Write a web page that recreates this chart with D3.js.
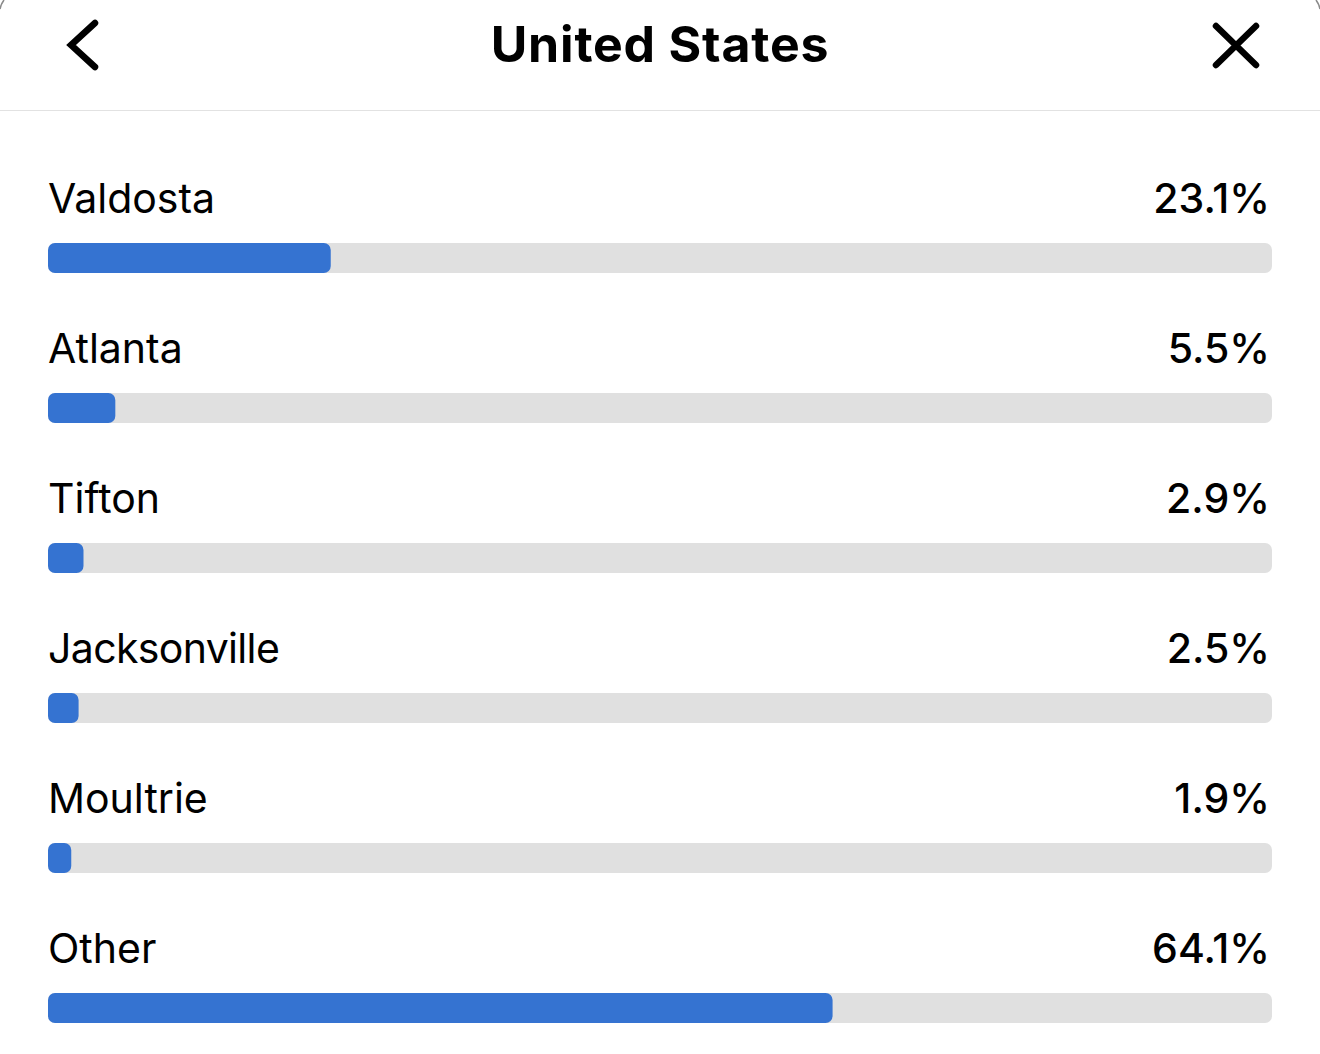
<!DOCTYPE html>
<html>
<head>
<meta charset="utf-8">
<script src="https://cdn.jsdelivr.net/npm/d3@7"></script>
<style>
    html, body { margin: 0; padding: 0; background: #fff; }
    svg { display: block; font-family: Inter, "Noto Sans", sans-serif; }
</style>
</head>
<body>
<svg id="chart" width="1320" height="1054"></svg>
<script>
var title = 'United States';
var cities = ['Valdosta', 'Atlanta', 'Tifton', 'Jacksonville', 'Moultrie', 'Other'];
var shares = [23.1, 5.5, 2.9, 2.5, 1.9, 64.1];

var width = 1320;
var height = 1054;
var svg = d3.select('#chart');

var rows = cities.map(function (city, i) {
    return {city: city, share: shares[i]};
});

var x = d3.scaleLinear().domain([0, 100]).range([48, 1272]);
// one band per row, the bar takes 30 of every 150 px
var y = d3.scaleBand().domain(cities).range([168, 1068]).paddingInner(0);
var barTop = 75;
var barHeight = 30;

// header
svg.append('line')
    .attr('x1', 0).attr('x2', width)
    .attr('y1', 110.5).attr('y2', 110.5)
    .style('stroke', '#e2e2e2')
    .style('stroke-width', 1);

svg.append('text')
    .attr('x', 660).attr('y', 62)
    .attr('text-anchor', 'middle')
    .style('font-size', '50px')
    .style('font-weight', 700)
    .style('letter-spacing', '0.8px')
    .style('fill', '#000')
    .text(title);

var icon = svg.append('g')
    .style('fill', 'none')
    .style('stroke', '#000')
    .style('stroke-width', 6.5)
    .style('stroke-linecap', 'round')
    .style('stroke-linejoin', 'miter');
icon.append('path').attr('d', 'M95 23L71 45L95 67');
icon.append('path').attr('d', 'M1216 26L1256 65M1256 26L1216 65');

// phone screen corners
var corners = svg.append('g').style('fill', 'none').style('stroke', '#8a8a8a').style('stroke-width', 1.5);
corners.append('path').attr('d', 'M0 9Q1 4 4 0');
corners.append('path').attr('d', 'M1320 9Q1319 4 1316 0');

var row = svg.selectAll('.row')
    .data(rows)
    .enter()
    .append('g')
    .attr('class', 'row')
    .attr('transform', function (d) {
        return 'translate(0,' + y(d.city) + ')';
    });

row.append('text')
    .attr('x', 48).attr('y', 45)
    .style('font-size', '41px')
    .style('letter-spacing', function (d) {
        // the long label runs a bit tighter in the screenshot
        return d.city === 'Jacksonville' ? '-0.65px' : null;
    })
    .style('fill', '#000')
    .text(function (d) { return d.city; });

row.append('text')
    .attr('x', 1270).attr('y', 45)
    .attr('text-anchor', 'end')
    .style('font-size', '41px')
    .style('font-weight', 500)
    .style('fill', '#000')
    .text(function (d) { return d.share + '%'; });

row.append('rect')
    .attr('x', x(0)).attr('y', barTop)
    .attr('width', x(100) - x(0)).attr('height', barHeight)
    .attr('rx', 7)
    .style('fill', '#e0e0e0');

row.append('rect')
    .attr('x', x(0)).attr('y', barTop)
    .attr('width', function (d) { return x(d.share) - x(0); })
    .attr('height', barHeight)
    .attr('rx', 7)
    .style('fill', '#3573d1');
</script>
</body>
</html>
